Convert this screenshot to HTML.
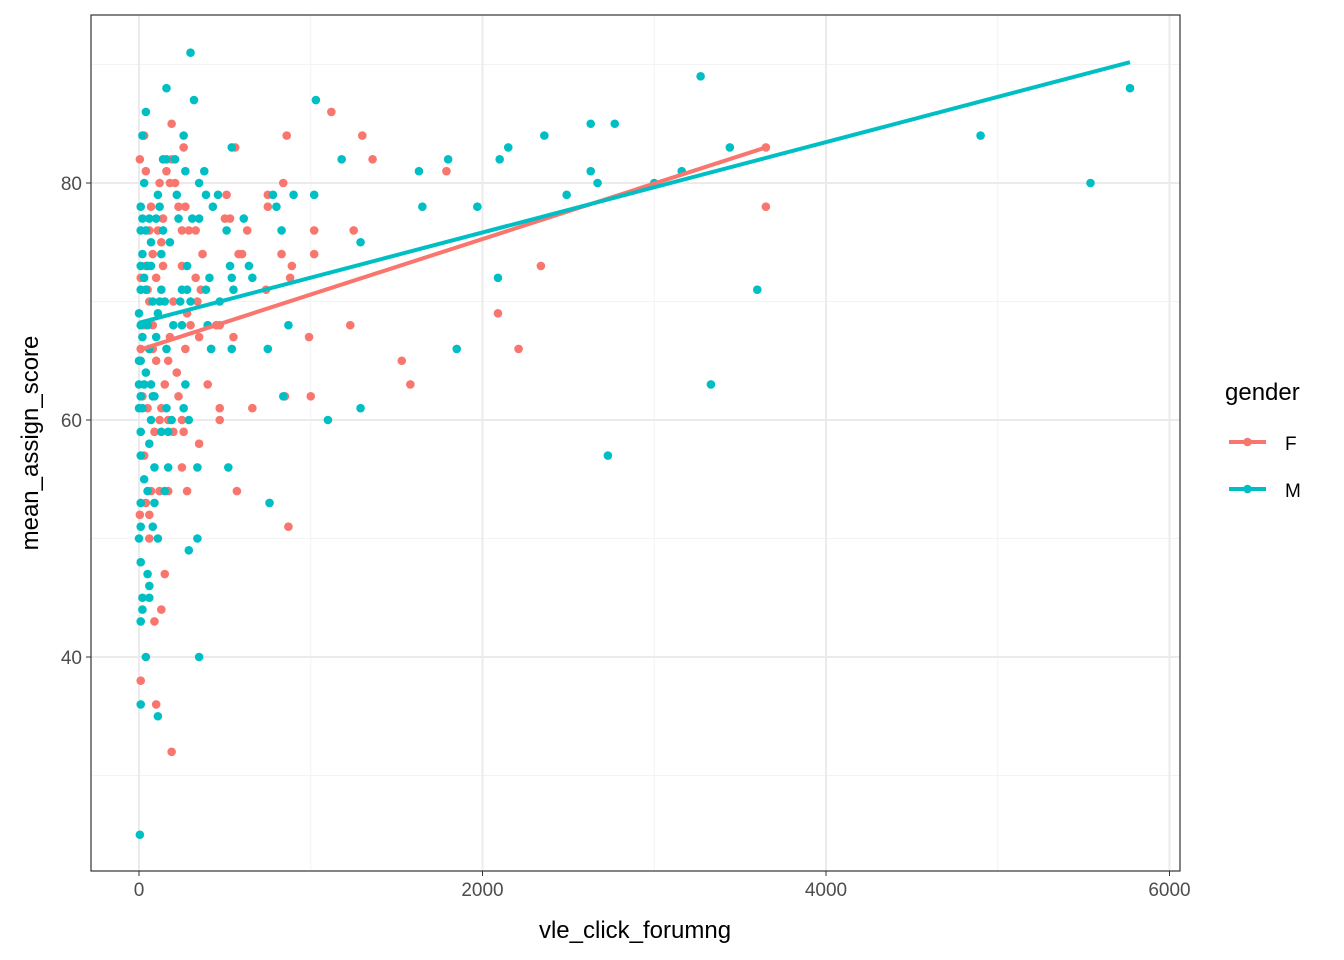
<!DOCTYPE html>
<html><head><meta charset="utf-8"><style>
body{margin:0;background:#fff}
svg{display:block;font-family:"Liberation Sans",sans-serif}
</style></head><body>
<svg id="chart" width="1344" height="960"></svg>
<script>
const fX=[3650,3650,2340,2210,2090,1790,1580,1530,1360,1300,1250,1230,1120,1020,1020,1000,990,890,880,870,860,850,840,830,750,750,740,660,630,600,580,570,560,550,530,510,500,470,470,470,450,420,400,370,360,350,350,340,330,330,300,290,280,280,270,270,260,260,250,250,250,250,230,230,220,210,200,200,190,190,180,180,170,170,160,150,150,140,140,130,130,130,120,120,110,100,100,100,90,90,80,80,70,70,60,60,60,60,60,50,40,40,30,30,30,20,10,5,5,10,190,10,50,40,80,120,170];
const fY=[83,78,73,66,69,81,63,65,82,84,76,68,86,76,74,62,67,73,72,51,84,62,80,74,78,79,71,61,76,74,74,54,83,67,77,79,77,61,60,68,68,66,63,74,71,67,58,70,72,76,68,76,69,54,78,66,83,59,76,73,56,60,78,62,64,80,70,59,85,82,80,67,65,54,81,63,47,77,73,75,61,44,80,60,76,72,65,36,43,59,74,68,78,54,76,70,66,50,52,71,81,73,84,68,57,62,72,82,52,38,32,66,61,53,66,54,60];
const mX=[5770,5540,4900,3600,3440,3330,3270,3160,3000,2770,2730,2670,2630,2630,2490,2360,2150,2100,2090,1970,1850,1800,1650,1630,1290,1290,1180,1100,1030,1020,900,870,840,830,800,780,760,750,660,640,610,550,540,540,530,520,540,510,470,460,430,420,410,400,390,390,380,350,350,340,340,350,320,310,300,300,290,290,280,280,270,270,260,260,250,250,240,230,220,210,200,190,180,170,170,160,160,160,160,150,140,140,130,130,130,120,120,110,110,110,110,100,100,90,90,90,80,80,70,70,70,60,60,60,60,50,50,40,40,40,40,30,30,30,30,20,20,20,20,20,20,20,10,10,10,10,10,10,10,10,10,10,10,10,10,10,5,0,0,0,0,0,40,50,50,60,80,70,150];
const mY=[88,80,84,71,83,63,89,81,80,85,57,80,81,85,79,84,83,82,72,78,66,82,78,81,61,75,82,60,87,79,79,68,62,76,78,79,53,66,72,73,77,71,72,66,73,56,83,76,70,79,78,66,72,68,79,71,81,80,77,56,50,40,87,77,91,70,60,49,73,71,81,63,84,61,71,68,70,77,79,82,68,60,75,56,59,88,82,66,61,54,82,76,74,71,59,78,70,79,69,50,35,77,67,62,53,56,70,51,75,63,60,66,58,46,45,54,47,86,76,64,40,80,72,63,55,84,77,74,67,61,45,44,78,76,73,71,68,65,62,59,57,53,51,48,43,36,25,69,65,61,50,63,71,68,73,77,62,73,70];
const fLine=[[0,65.9],[3650,83.0]];
const mLine=[[0,68.2],[5770,90.2]];
const xTicks=[0,2000,4000,6000], yTicks=[40,60,80];
const xMinor=[1000,3000,5000], yMinor=[30,50,70,90];
const L=91,R=1180,T=15,B=871;
const sx=v=>139+v*0.17175, sy=v=>420-(v-60)*11.85;
const svg=document.getElementById('chart');const NS='http://www.w3.org/2000/svg';
function mk(t,a,p){const e=document.createElementNS(NS,t);for(const k in a)e.setAttribute(k,a[k]);(p||svg).appendChild(e);return e;}
mk('rect',{x:L,y:T,width:R-L,height:B-T,fill:'#fff'});
xMinor.forEach(v=>{const e=mk('line',{x1:sx(v),x2:sx(v),y1:T,y2:B,stroke:'#f3f3f3','stroke-width':1});});
yMinor.forEach(v=>{const e=mk('line',{x1:L,x2:R,y1:sy(v),y2:sy(v),stroke:'#f3f3f3','stroke-width':1});});
xTicks.forEach(v=>{const e=mk('line',{x1:sx(v),x2:sx(v),y1:T,y2:B,stroke:'#ebebeb','stroke-width':2});
 mk('line',{x1:sx(v),x2:sx(v),y1:B,y2:B+5,stroke:'#333'});
 const t=mk('text',{x:sx(v),y:B+25,'text-anchor':'middle','font-size':19,fill:'#4d4d4d'});t.textContent=v;});
yTicks.forEach(v=>{const e=mk('line',{x1:L,x2:R,y1:sy(v),y2:sy(v),stroke:'#ebebeb','stroke-width':2});
 mk('line',{x1:L-5,x2:L,y1:sy(v),y2:sy(v),stroke:'#333'});
 const t=mk('text',{x:L-9,y:sy(v)+7,'text-anchor':'end','font-size':19,fill:'#4d4d4d'});t.textContent=v;});
function pts(X,Y,c,n){X.forEach((x,i)=>{const e=mk('circle',{cx:sx(x),cy:sy(Y[i]),r:4.3,fill:c});});}
pts(fX,fY,'#F8766D','point-f');pts(mX,mY,'#00BFC4','point-m');
function ln(d,c,n){const e=mk('line',{x1:sx(d[0][0]),y1:sy(d[0][1]),x2:sx(d[1][0]),y2:sy(d[1][1]),stroke:c,'stroke-width':4});}
ln(fLine,'#F8766D','trend-line-f');ln(mLine,'#00BFC4','trend-line-m');
mk('rect',{x:L,y:T,width:R-L,height:B-T,fill:'none',stroke:'#333','stroke-width':1.2});
let t=mk('text',{x:635,y:938,'text-anchor':'middle','font-size':24,fill:'#000'});t.textContent='vle_click_forumng';
t=mk('text',{x:38,y:443,'text-anchor':'middle','font-size':24,fill:'#000',transform:'rotate(-90 38 443)'});t.textContent='mean_assign_score';
t=mk('text',{x:1225,y:400,'font-size':24,fill:'#000'});t.textContent='gender';
[['F','#F8766D',442],['M','#00BFC4',489]].forEach(([k,c,y])=>{const g=mk('g',{});
 mk('line',{x1:1229,x2:1266,y1:y,y2:y,stroke:c,'stroke-width':4},g);mk('circle',{cx:1247.5,cy:y,r:4.3,fill:c},g);
 const tt=mk('text',{x:1285,y:y+8,'font-size':19,fill:'#000'},g);tt.textContent=k;});
</script>
</body></html>
